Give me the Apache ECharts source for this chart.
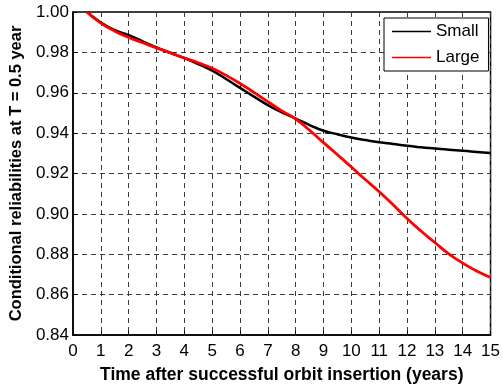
<!DOCTYPE html>
<html>
<head>
<meta charset="utf-8">
<script src="https://cdn.jsdelivr.net/npm/echarts@6/dist/echarts.min.js"></script>
<style>
  html, body { margin: 0; padding: 0; background: #fff; }
  #chart { width: 503px; height: 389px; }
</style>
</head>
<body>
<div id="chart"></div>
<script>
// Time after orbit insertion (years)
var years = [0.5, 1, 1.5, 2, 2.5, 3, 3.5, 4, 4.5, 5, 5.5, 6, 6.5, 7, 7.5, 8,
             8.5, 9, 9.5, 10, 10.5, 11, 11.5, 12, 12.5, 13, 13.5, 14, 14.5, 15];

// Conditional reliability at T = 0.5 year, small spacecraft
var smallRel = [1.0000, 0.9948, 0.9910, 0.9885, 0.9855, 0.9825, 0.9798, 0.9772,
                0.9742, 0.9710, 0.9668, 0.9624, 0.9581, 0.9539, 0.9503, 0.9472,
                0.9440, 0.9412, 0.9394, 0.9378, 0.9366, 0.9355, 0.9346, 0.9337,
                0.9330, 0.9324, 0.9318, 0.9313, 0.9307, 0.9301];

// Conditional reliability at T = 0.5 year, large spacecraft
var largeRel = [1.0000, 0.9945, 0.9905, 0.9874, 0.9848, 0.9822, 0.9797, 0.9772,
                0.9748, 0.9721, 0.9686, 0.9646, 0.9602, 0.9556, 0.9510, 0.9470,
                0.9414, 0.9353, 0.9293, 0.9232, 0.9170, 0.9110, 0.9045, 0.8977,
                0.8915, 0.8858, 0.8802, 0.8756, 0.8717, 0.8685];

var seriesNames = ['Small', 'Large'];
var xTicks = [0, 15, 1];         // min, max, interval
var yTicks = [0.84, 1.00, 0.02]; // min, max, interval

function pairs(xs, ys) {
  return xs.map(function (x, i) { return [x, ys[i]]; });
}

var font = '"Liberation Sans", Arial, sans-serif';
var gridLine = { show: true, lineStyle: { color: '#3a3a3a', type: [5, 4], width: 1 } };
// thin horizontal stroke used as the legend key
var legendKey = 'path://M0,0H39V1.6H0Z';

var chart = echarts.init(document.getElementById('chart'), null, { renderer: 'canvas' });
chart.setOption({
  animation: false,
  backgroundColor: '#fff',
  grid: {
    left: 73, right: 9, top: 12, bottom: 48,
    show: true, borderColor: '#000', borderWidth: 1.5, backgroundColor: 'transparent'
  },
  legend: {
    data: seriesNames,
    orient: 'vertical',
    left: 384, top: 18,
    padding: [5, 9, 5, 8],
    icon: legendKey,
    itemWidth: 39, itemHeight: 14, itemGap: 9,
    backgroundColor: '#fff',
    borderColor: '#000', borderWidth: 1, borderRadius: 0,
    textStyle: { fontFamily: font, fontSize: 17, color: '#000', padding: [0, 0, 0, 0] }
  },
  xAxis: {
    type: 'value',
    min: xTicks[0], max: xTicks[1], interval: xTicks[2],
    name: 'Time after successful orbit insertion (years)',
    nameLocation: 'middle', nameGap: 31,
    nameTextStyle: { fontFamily: font, fontSize: 17.5, fontWeight: 'bold', color: '#000' },
    axisLine: { lineStyle: { color: '#000', width: 1.5 } },
    axisTick: { inside: true, length: 4, lineStyle: { color: '#000' } },
    axisLabel: { fontFamily: font, fontSize: 17, color: '#000', margin: 8 },
    splitLine: gridLine
  },
  yAxis: {
    type: 'value',
    min: yTicks[0], max: yTicks[1], interval: yTicks[2],
    name: 'Conditional reliabilities at T = 0.5 year',
    nameLocation: 'middle', nameGap: 47,
    nameTextStyle: { fontFamily: font, fontSize: 16.5, fontWeight: 'bold', color: '#000' },
    axisLine: { lineStyle: { color: '#000', width: 1.5 } },
    axisTick: { inside: true, length: 4, lineStyle: { color: '#000' } },
    axisLabel: {
      fontFamily: font, fontSize: 17, color: '#000', margin: 4,
      formatter: function (v) { return v.toFixed(2); }
    },
    splitLine: gridLine
  },
  series: [
    {
      name: seriesNames[0], type: 'line', smooth: true, symbol: 'none',
      data: pairs(years, smallRel),
      lineStyle: { color: '#000', width: 2.5 },
      itemStyle: { color: '#000' }
    },
    {
      name: seriesNames[1], type: 'line', smooth: true, symbol: 'none',
      data: pairs(years, largeRel),
      lineStyle: { color: '#ff0000', width: 2.8 },
      itemStyle: { color: '#ff0000' }
    }
  ]
});
</script>
</body>
</html>
